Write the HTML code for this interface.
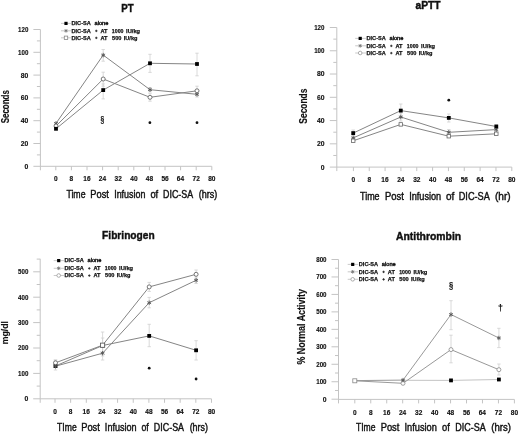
<!DOCTYPE html>
<html><head><meta charset="utf-8"><style>
html,body{margin:0;padding:0;background:#fff;}
svg{display:block;font-family:"Liberation Sans",sans-serif;filter:blur(0.3px);}
text{stroke:#111;stroke-width:0.4px;}
text[font-weight]{stroke-width:0.15px;}
</style></head><body>
<svg width="520" height="435" viewBox="0 0 520 435">
<rect width="520" height="435" fill="#fff"/>
<text x="121.25" y="11.90" font-size="11.63" textLength="12.35" lengthAdjust="spacingAndGlyphs" font-weight="bold" fill="#111" style="stroke-width:0.45px">PT</text>
<text transform="translate(9.40,123.33) rotate(-90)" x="0" y="0" font-size="10.03" textLength="33.26" lengthAdjust="spacingAndGlyphs" font-weight="bold" fill="#111">Seconds</text>
<line x1="40.40" y1="29.50" x2="40.40" y2="170.30" stroke="#c4c4c4" stroke-width="1"/>
<line x1="33.40" y1="166.30" x2="40.40" y2="166.30" stroke="#c4c4c4" stroke-width="1"/>
<line x1="33.40" y1="143.50" x2="40.40" y2="143.50" stroke="#c4c4c4" stroke-width="1"/>
<line x1="33.40" y1="120.70" x2="40.40" y2="120.70" stroke="#c4c4c4" stroke-width="1"/>
<line x1="33.40" y1="97.90" x2="40.40" y2="97.90" stroke="#c4c4c4" stroke-width="1"/>
<line x1="33.40" y1="75.10" x2="40.40" y2="75.10" stroke="#c4c4c4" stroke-width="1"/>
<line x1="33.40" y1="52.30" x2="40.40" y2="52.30" stroke="#c4c4c4" stroke-width="1"/>
<line x1="33.40" y1="29.50" x2="40.40" y2="29.50" stroke="#c4c4c4" stroke-width="1"/>
<line x1="36.90" y1="154.90" x2="40.40" y2="154.90" stroke="#c4c4c4" stroke-width="1"/>
<line x1="36.90" y1="132.10" x2="40.40" y2="132.10" stroke="#c4c4c4" stroke-width="1"/>
<line x1="36.90" y1="109.30" x2="40.40" y2="109.30" stroke="#c4c4c4" stroke-width="1"/>
<line x1="36.90" y1="86.50" x2="40.40" y2="86.50" stroke="#c4c4c4" stroke-width="1"/>
<line x1="36.90" y1="63.70" x2="40.40" y2="63.70" stroke="#c4c4c4" stroke-width="1"/>
<line x1="36.90" y1="40.90" x2="40.40" y2="40.90" stroke="#c4c4c4" stroke-width="1"/>
<line x1="40.40" y1="166.30" x2="211.80" y2="166.30" stroke="#c4c4c4" stroke-width="1"/>
<line x1="55.80" y1="166.30" x2="55.80" y2="170.30" stroke="#c4c4c4" stroke-width="1"/>
<text x="53.99" y="181.10" font-size="6.73" textLength="3.63" lengthAdjust="spacingAndGlyphs" font-weight="bold" fill="#111">0</text>
<line x1="71.40" y1="166.30" x2="71.40" y2="170.30" stroke="#c4c4c4" stroke-width="1"/>
<text x="69.58" y="181.10" font-size="6.73" textLength="3.63" lengthAdjust="spacingAndGlyphs" font-weight="bold" fill="#111">8</text>
<line x1="87.00" y1="166.30" x2="87.00" y2="170.30" stroke="#c4c4c4" stroke-width="1"/>
<text x="83.28" y="181.10" font-size="6.73" textLength="7.27" lengthAdjust="spacingAndGlyphs" font-weight="bold" fill="#111">16</text>
<line x1="102.60" y1="166.30" x2="102.60" y2="170.30" stroke="#c4c4c4" stroke-width="1"/>
<text x="98.87" y="181.10" font-size="6.73" textLength="7.27" lengthAdjust="spacingAndGlyphs" font-weight="bold" fill="#111">24</text>
<line x1="118.20" y1="166.30" x2="118.20" y2="170.30" stroke="#c4c4c4" stroke-width="1"/>
<text x="114.62" y="181.10" font-size="6.73" textLength="7.27" lengthAdjust="spacingAndGlyphs" font-weight="bold" fill="#111">32</text>
<line x1="133.80" y1="166.30" x2="133.80" y2="170.30" stroke="#c4c4c4" stroke-width="1"/>
<text x="130.25" y="181.10" font-size="6.73" textLength="7.27" lengthAdjust="spacingAndGlyphs" font-weight="bold" fill="#111">40</text>
<line x1="149.40" y1="166.30" x2="149.40" y2="170.30" stroke="#c4c4c4" stroke-width="1"/>
<text x="145.82" y="181.10" font-size="6.73" textLength="7.27" lengthAdjust="spacingAndGlyphs" font-weight="bold" fill="#111">48</text>
<line x1="165.00" y1="166.30" x2="165.00" y2="170.30" stroke="#c4c4c4" stroke-width="1"/>
<text x="161.38" y="181.10" font-size="6.73" textLength="7.27" lengthAdjust="spacingAndGlyphs" font-weight="bold" fill="#111">56</text>
<line x1="180.60" y1="166.30" x2="180.60" y2="170.30" stroke="#c4c4c4" stroke-width="1"/>
<text x="176.86" y="181.10" font-size="6.73" textLength="7.27" lengthAdjust="spacingAndGlyphs" font-weight="bold" fill="#111">64</text>
<line x1="196.20" y1="166.30" x2="196.20" y2="170.30" stroke="#c4c4c4" stroke-width="1"/>
<text x="192.56" y="181.10" font-size="6.73" textLength="7.27" lengthAdjust="spacingAndGlyphs" font-weight="bold" fill="#111">72</text>
<line x1="211.80" y1="166.30" x2="211.80" y2="170.30" stroke="#c4c4c4" stroke-width="1"/>
<text x="208.20" y="181.10" font-size="6.73" textLength="7.27" lengthAdjust="spacingAndGlyphs" font-weight="bold" fill="#111">80</text>
<text x="24.59" y="168.75" font-size="7.02" textLength="3.79" lengthAdjust="spacingAndGlyphs" font-weight="bold" fill="#111">0</text>
<text x="20.81" y="145.95" font-size="7.02" textLength="7.57" lengthAdjust="spacingAndGlyphs" font-weight="bold" fill="#111">20</text>
<text x="20.81" y="123.15" font-size="7.02" textLength="7.57" lengthAdjust="spacingAndGlyphs" font-weight="bold" fill="#111">40</text>
<text x="20.81" y="100.35" font-size="7.02" textLength="7.57" lengthAdjust="spacingAndGlyphs" font-weight="bold" fill="#111">60</text>
<text x="20.81" y="77.55" font-size="7.02" textLength="7.57" lengthAdjust="spacingAndGlyphs" font-weight="bold" fill="#111">80</text>
<text x="18.05" y="54.75" font-size="7.02" textLength="10.31" lengthAdjust="spacingAndGlyphs" font-weight="bold" fill="#111">100</text>
<text x="18.05" y="31.95" font-size="7.02" textLength="10.31" lengthAdjust="spacingAndGlyphs" font-weight="bold" fill="#111">120</text>
<text x="66.41" y="198.10" font-size="10.03" textLength="19.08" lengthAdjust="spacingAndGlyphs" fill="#111">Time</text>
<text x="90.34" y="198.10" font-size="10.03" textLength="18.52" lengthAdjust="spacingAndGlyphs" fill="#111">Post</text>
<text x="114.18" y="198.10" font-size="10.03" textLength="31.20" lengthAdjust="spacingAndGlyphs" fill="#111">Infusion</text>
<text x="150.41" y="198.10" font-size="10.03" textLength="7.78" lengthAdjust="spacingAndGlyphs" fill="#111">of</text>
<text x="163.07" y="198.10" font-size="10.03" textLength="30.05" lengthAdjust="spacingAndGlyphs" fill="#111">DIC-SA</text>
<text x="198.64" y="198.10" font-size="10.03" textLength="18.52" lengthAdjust="spacingAndGlyphs" fill="#111">(hrs)</text>
<text x="71.52" y="25.20" font-size="5.96" textLength="19.32" lengthAdjust="spacingAndGlyphs" font-weight="bold" fill="#111" style="stroke-width:0.25px">DIC-SA</text>
<text x="94.56" y="25.20" font-size="5.81" textLength="13.89" lengthAdjust="spacingAndGlyphs" fill="#111" style="stroke-width:0.4px">alone</text>
<text x="71.52" y="32.60" font-size="5.96" textLength="19.32" lengthAdjust="spacingAndGlyphs" font-weight="bold" fill="#111" style="stroke-width:0.25px">DIC-SA</text>
<line x1="95.10" y1="30.90" x2="97.50" y2="30.90" stroke="#222" stroke-width="0.9"/>
<line x1="96.30" y1="29.70" x2="96.30" y2="32.10" stroke="#222" stroke-width="0.9"/>
<text x="100.46" y="32.60" font-size="5.96" textLength="7.10" lengthAdjust="spacingAndGlyphs" font-weight="bold" fill="#111" style="stroke-width:0.25px">AT</text>
<text x="111.87" y="32.60" font-size="5.96" textLength="11.65" lengthAdjust="spacingAndGlyphs" font-weight="bold" fill="#111" style="stroke-width:0.25px">1000</text>
<text x="126.12" y="32.60" font-size="5.96" textLength="13.96" lengthAdjust="spacingAndGlyphs" font-weight="bold" fill="#111" style="stroke-width:0.25px">IU/kg</text>
<text x="71.52" y="39.60" font-size="5.96" textLength="19.32" lengthAdjust="spacingAndGlyphs" font-weight="bold" fill="#111" style="stroke-width:0.25px">DIC-SA</text>
<line x1="95.10" y1="37.90" x2="97.50" y2="37.90" stroke="#222" stroke-width="0.9"/>
<line x1="96.30" y1="36.70" x2="96.30" y2="39.10" stroke="#222" stroke-width="0.9"/>
<text x="100.46" y="39.60" font-size="5.96" textLength="7.10" lengthAdjust="spacingAndGlyphs" font-weight="bold" fill="#111" style="stroke-width:0.25px">AT</text>
<text x="112.03" y="39.60" font-size="5.96" textLength="9.41" lengthAdjust="spacingAndGlyphs" font-weight="bold" fill="#111" style="stroke-width:0.25px">500</text>
<text x="123.72" y="39.60" font-size="5.96" textLength="13.75" lengthAdjust="spacingAndGlyphs" font-weight="bold" fill="#111" style="stroke-width:0.25px">IU/kg</text>
<line x1="61.00" y1="23.40" x2="70.90" y2="23.40" stroke="#bbb" stroke-width="0.8"/>
<line x1="61.00" y1="30.80" x2="70.90" y2="30.80" stroke="#bbb" stroke-width="0.8"/>
<line x1="61.00" y1="37.80" x2="70.90" y2="37.80" stroke="#bbb" stroke-width="0.8"/>
<rect x="64.40" y="21.80" width="3.2" height="3.2" fill="#000"/>
<path d="M66.00,32.60L66.00,29.00M64.44,31.70L67.56,29.90M64.44,29.90L67.56,31.70" stroke="#777" stroke-width="0.9" fill="none"/>
<rect x="64.30" y="36.10" width="3.4" height="3.4" fill="#fff" stroke="#888" stroke-width="0.8"/>
<line x1="103.20" y1="83.90" x2="103.20" y2="98.90" stroke="#d0d0d0" stroke-width="0.8"/>
<line x1="101.50" y1="83.90" x2="104.90" y2="83.90" stroke="#d0d0d0" stroke-width="0.8"/>
<line x1="101.50" y1="98.90" x2="104.90" y2="98.90" stroke="#d0d0d0" stroke-width="0.8"/>
<line x1="150.00" y1="54.30" x2="150.00" y2="72.40" stroke="#d0d0d0" stroke-width="0.8"/>
<line x1="148.30" y1="54.30" x2="151.70" y2="54.30" stroke="#d0d0d0" stroke-width="0.8"/>
<line x1="148.30" y1="72.40" x2="151.70" y2="72.40" stroke="#d0d0d0" stroke-width="0.8"/>
<line x1="197.00" y1="53.20" x2="197.00" y2="75.80" stroke="#d0d0d0" stroke-width="0.8"/>
<line x1="195.30" y1="53.20" x2="198.70" y2="53.20" stroke="#d0d0d0" stroke-width="0.8"/>
<line x1="195.30" y1="75.80" x2="198.70" y2="75.80" stroke="#d0d0d0" stroke-width="0.8"/>
<line x1="103.20" y1="49.50" x2="103.20" y2="61.20" stroke="#d0d0d0" stroke-width="0.8"/>
<line x1="101.50" y1="49.50" x2="104.90" y2="49.50" stroke="#d0d0d0" stroke-width="0.8"/>
<line x1="101.50" y1="61.20" x2="104.90" y2="61.20" stroke="#d0d0d0" stroke-width="0.8"/>
<line x1="150.00" y1="87.50" x2="150.00" y2="92.00" stroke="#d0d0d0" stroke-width="0.8"/>
<line x1="148.30" y1="87.50" x2="151.70" y2="87.50" stroke="#d0d0d0" stroke-width="0.8"/>
<line x1="148.30" y1="92.00" x2="151.70" y2="92.00" stroke="#d0d0d0" stroke-width="0.8"/>
<line x1="197.00" y1="91.50" x2="197.00" y2="97.00" stroke="#d0d0d0" stroke-width="0.8"/>
<line x1="195.30" y1="91.50" x2="198.70" y2="91.50" stroke="#d0d0d0" stroke-width="0.8"/>
<line x1="195.30" y1="97.00" x2="198.70" y2="97.00" stroke="#d0d0d0" stroke-width="0.8"/>
<line x1="103.20" y1="72.20" x2="103.20" y2="86.20" stroke="#d0d0d0" stroke-width="0.8"/>
<line x1="101.50" y1="72.20" x2="104.90" y2="72.20" stroke="#d0d0d0" stroke-width="0.8"/>
<line x1="101.50" y1="86.20" x2="104.90" y2="86.20" stroke="#d0d0d0" stroke-width="0.8"/>
<line x1="150.00" y1="93.60" x2="150.00" y2="101.20" stroke="#d0d0d0" stroke-width="0.8"/>
<line x1="148.30" y1="93.60" x2="151.70" y2="93.60" stroke="#d0d0d0" stroke-width="0.8"/>
<line x1="148.30" y1="101.20" x2="151.70" y2="101.20" stroke="#d0d0d0" stroke-width="0.8"/>
<line x1="197.00" y1="86.20" x2="197.00" y2="95.40" stroke="#d0d0d0" stroke-width="0.8"/>
<line x1="195.30" y1="86.20" x2="198.70" y2="86.20" stroke="#d0d0d0" stroke-width="0.8"/>
<line x1="195.30" y1="95.40" x2="198.70" y2="95.40" stroke="#d0d0d0" stroke-width="0.8"/>
<polyline points="56.00,128.80 103.20,90.10 150.00,63.30 197.00,64.00" fill="none" stroke="#858585" stroke-width="1"/>
<polyline points="56.00,123.40 103.20,55.10 150.00,89.70 197.00,94.30" fill="none" stroke="#858585" stroke-width="1"/>
<polyline points="56.00,126.00 103.20,79.00 150.00,97.30 197.00,90.80" fill="none" stroke="#858585" stroke-width="1"/>
<path d="M56.00,125.60L56.00,121.20M54.09,124.50L57.91,122.30M54.09,122.30L57.91,124.50" stroke="#555" stroke-width="0.9" fill="none"/>
<path d="M103.20,57.30L103.20,52.90M101.29,56.20L105.11,54.00M101.29,54.00L105.11,56.20" stroke="#555" stroke-width="0.9" fill="none"/>
<path d="M150.00,91.90L150.00,87.50M148.09,90.80L151.91,88.60M148.09,88.60L151.91,90.80" stroke="#555" stroke-width="0.9" fill="none"/>
<path d="M197.00,96.50L197.00,92.10M195.09,95.40L198.91,93.20M195.09,93.20L198.91,95.40" stroke="#555" stroke-width="0.9" fill="none"/>
<circle cx="56.00" cy="126.00" r="2.0" fill="#fff" stroke="#555" stroke-width="0.8"/>
<circle cx="103.20" cy="79.00" r="2.0" fill="#fff" stroke="#555" stroke-width="0.8"/>
<circle cx="150.00" cy="97.30" r="2.0" fill="#fff" stroke="#555" stroke-width="0.8"/>
<circle cx="197.00" cy="90.80" r="2.0" fill="#fff" stroke="#555" stroke-width="0.8"/>
<rect x="54.10" y="126.90" width="3.8" height="3.8" fill="#000"/>
<rect x="101.30" y="88.20" width="3.8" height="3.8" fill="#000"/>
<rect x="148.10" y="61.40" width="3.8" height="3.8" fill="#000"/>
<rect x="195.10" y="62.10" width="3.8" height="3.8" fill="#000"/>
<text x="100.52" y="122.12" font-size="8.78" textLength="3.75" lengthAdjust="spacingAndGlyphs" font-weight="bold" fill="#111">§</text>
<circle cx="149.90" cy="122.70" r="1.4" fill="#111"/>
<circle cx="197.00" cy="122.70" r="1.4" fill="#111"/>
<text x="415.50" y="9.10" font-size="11.34" textLength="25.11" lengthAdjust="spacingAndGlyphs" font-weight="bold" fill="#111" style="stroke-width:0.45px">aPTT</text>
<text transform="translate(307.10,123.64) rotate(-90)" x="0" y="0" font-size="10.03" textLength="34.99" lengthAdjust="spacingAndGlyphs" font-weight="bold" fill="#111">Seconds</text>
<line x1="336.80" y1="27.50" x2="336.80" y2="171.10" stroke="#c4c4c4" stroke-width="1"/>
<line x1="329.80" y1="167.10" x2="336.80" y2="167.10" stroke="#c4c4c4" stroke-width="1"/>
<line x1="329.80" y1="143.83" x2="336.80" y2="143.83" stroke="#c4c4c4" stroke-width="1"/>
<line x1="329.80" y1="120.57" x2="336.80" y2="120.57" stroke="#c4c4c4" stroke-width="1"/>
<line x1="329.80" y1="97.30" x2="336.80" y2="97.30" stroke="#c4c4c4" stroke-width="1"/>
<line x1="329.80" y1="74.03" x2="336.80" y2="74.03" stroke="#c4c4c4" stroke-width="1"/>
<line x1="329.80" y1="50.77" x2="336.80" y2="50.77" stroke="#c4c4c4" stroke-width="1"/>
<line x1="329.80" y1="27.50" x2="336.80" y2="27.50" stroke="#c4c4c4" stroke-width="1"/>
<line x1="333.30" y1="155.47" x2="336.80" y2="155.47" stroke="#c4c4c4" stroke-width="1"/>
<line x1="333.30" y1="132.20" x2="336.80" y2="132.20" stroke="#c4c4c4" stroke-width="1"/>
<line x1="333.30" y1="108.93" x2="336.80" y2="108.93" stroke="#c4c4c4" stroke-width="1"/>
<line x1="333.30" y1="85.67" x2="336.80" y2="85.67" stroke="#c4c4c4" stroke-width="1"/>
<line x1="333.30" y1="62.40" x2="336.80" y2="62.40" stroke="#c4c4c4" stroke-width="1"/>
<line x1="333.30" y1="39.13" x2="336.80" y2="39.13" stroke="#c4c4c4" stroke-width="1"/>
<line x1="336.80" y1="167.10" x2="511.80" y2="167.10" stroke="#c4c4c4" stroke-width="1"/>
<line x1="353.40" y1="167.10" x2="353.40" y2="171.10" stroke="#c4c4c4" stroke-width="1"/>
<text x="351.59" y="182.40" font-size="6.73" textLength="3.63" lengthAdjust="spacingAndGlyphs" font-weight="bold" fill="#111">0</text>
<line x1="369.24" y1="167.10" x2="369.24" y2="171.10" stroke="#c4c4c4" stroke-width="1"/>
<text x="367.42" y="182.40" font-size="6.73" textLength="3.63" lengthAdjust="spacingAndGlyphs" font-weight="bold" fill="#111">8</text>
<line x1="385.08" y1="167.10" x2="385.08" y2="171.10" stroke="#c4c4c4" stroke-width="1"/>
<text x="381.36" y="182.40" font-size="6.73" textLength="7.27" lengthAdjust="spacingAndGlyphs" font-weight="bold" fill="#111">16</text>
<line x1="400.92" y1="167.10" x2="400.92" y2="171.10" stroke="#c4c4c4" stroke-width="1"/>
<text x="397.19" y="182.40" font-size="6.73" textLength="7.27" lengthAdjust="spacingAndGlyphs" font-weight="bold" fill="#111">24</text>
<line x1="416.76" y1="167.10" x2="416.76" y2="171.10" stroke="#c4c4c4" stroke-width="1"/>
<text x="413.18" y="182.40" font-size="6.73" textLength="7.27" lengthAdjust="spacingAndGlyphs" font-weight="bold" fill="#111">32</text>
<line x1="432.60" y1="167.10" x2="432.60" y2="171.10" stroke="#c4c4c4" stroke-width="1"/>
<text x="429.05" y="182.40" font-size="6.73" textLength="7.27" lengthAdjust="spacingAndGlyphs" font-weight="bold" fill="#111">40</text>
<line x1="448.44" y1="167.10" x2="448.44" y2="171.10" stroke="#c4c4c4" stroke-width="1"/>
<text x="444.86" y="182.40" font-size="6.73" textLength="7.27" lengthAdjust="spacingAndGlyphs" font-weight="bold" fill="#111">48</text>
<line x1="464.28" y1="167.10" x2="464.28" y2="171.10" stroke="#c4c4c4" stroke-width="1"/>
<text x="460.66" y="182.40" font-size="6.73" textLength="7.27" lengthAdjust="spacingAndGlyphs" font-weight="bold" fill="#111">56</text>
<line x1="480.12" y1="167.10" x2="480.12" y2="171.10" stroke="#c4c4c4" stroke-width="1"/>
<text x="476.38" y="182.40" font-size="6.73" textLength="7.27" lengthAdjust="spacingAndGlyphs" font-weight="bold" fill="#111">64</text>
<line x1="495.96" y1="167.10" x2="495.96" y2="171.10" stroke="#c4c4c4" stroke-width="1"/>
<text x="492.32" y="182.40" font-size="6.73" textLength="7.27" lengthAdjust="spacingAndGlyphs" font-weight="bold" fill="#111">72</text>
<line x1="511.80" y1="167.10" x2="511.80" y2="171.10" stroke="#c4c4c4" stroke-width="1"/>
<text x="508.20" y="182.40" font-size="6.73" textLength="7.27" lengthAdjust="spacingAndGlyphs" font-weight="bold" fill="#111">80</text>
<text x="320.69" y="169.55" font-size="7.02" textLength="3.79" lengthAdjust="spacingAndGlyphs" font-weight="bold" fill="#111">0</text>
<text x="316.91" y="146.28" font-size="7.02" textLength="7.57" lengthAdjust="spacingAndGlyphs" font-weight="bold" fill="#111">20</text>
<text x="316.91" y="123.02" font-size="7.02" textLength="7.57" lengthAdjust="spacingAndGlyphs" font-weight="bold" fill="#111">40</text>
<text x="316.91" y="99.75" font-size="7.02" textLength="7.57" lengthAdjust="spacingAndGlyphs" font-weight="bold" fill="#111">60</text>
<text x="316.91" y="76.48" font-size="7.02" textLength="7.57" lengthAdjust="spacingAndGlyphs" font-weight="bold" fill="#111">80</text>
<text x="314.15" y="53.22" font-size="7.02" textLength="10.31" lengthAdjust="spacingAndGlyphs" font-weight="bold" fill="#111">100</text>
<text x="314.15" y="29.95" font-size="7.02" textLength="10.31" lengthAdjust="spacingAndGlyphs" font-weight="bold" fill="#111">120</text>
<text x="360.00" y="200.00" font-size="10.03" textLength="19.59" lengthAdjust="spacingAndGlyphs" fill="#111">Time</text>
<text x="385.03" y="200.00" font-size="10.03" textLength="18.84" lengthAdjust="spacingAndGlyphs" fill="#111">Post</text>
<text x="409.16" y="200.00" font-size="10.03" textLength="32.04" lengthAdjust="spacingAndGlyphs" fill="#111">Infusion</text>
<text x="446.08" y="200.00" font-size="10.03" textLength="8.31" lengthAdjust="spacingAndGlyphs" fill="#111">of</text>
<text x="458.75" y="200.00" font-size="10.03" textLength="31.07" lengthAdjust="spacingAndGlyphs" fill="#111">DIC-SA</text>
<text x="494.98" y="200.00" font-size="10.03" textLength="15.65" lengthAdjust="spacingAndGlyphs" fill="#111">(hr)</text>
<text x="366.52" y="40.20" font-size="5.96" textLength="19.32" lengthAdjust="spacingAndGlyphs" font-weight="bold" fill="#111" style="stroke-width:0.25px">DIC-SA</text>
<text x="389.56" y="40.20" font-size="5.81" textLength="13.89" lengthAdjust="spacingAndGlyphs" fill="#111" style="stroke-width:0.4px">alone</text>
<text x="366.52" y="47.60" font-size="5.96" textLength="19.32" lengthAdjust="spacingAndGlyphs" font-weight="bold" fill="#111" style="stroke-width:0.25px">DIC-SA</text>
<line x1="390.10" y1="45.90" x2="392.50" y2="45.90" stroke="#222" stroke-width="0.9"/>
<line x1="391.30" y1="44.70" x2="391.30" y2="47.10" stroke="#222" stroke-width="0.9"/>
<text x="395.46" y="47.60" font-size="5.96" textLength="7.10" lengthAdjust="spacingAndGlyphs" font-weight="bold" fill="#111" style="stroke-width:0.25px">AT</text>
<text x="406.87" y="47.60" font-size="5.96" textLength="11.65" lengthAdjust="spacingAndGlyphs" font-weight="bold" fill="#111" style="stroke-width:0.25px">1000</text>
<text x="421.12" y="47.60" font-size="5.96" textLength="13.96" lengthAdjust="spacingAndGlyphs" font-weight="bold" fill="#111" style="stroke-width:0.25px">IU/kg</text>
<text x="366.52" y="54.80" font-size="5.96" textLength="19.32" lengthAdjust="spacingAndGlyphs" font-weight="bold" fill="#111" style="stroke-width:0.25px">DIC-SA</text>
<line x1="390.10" y1="53.10" x2="392.50" y2="53.10" stroke="#222" stroke-width="0.9"/>
<line x1="391.30" y1="51.90" x2="391.30" y2="54.30" stroke="#222" stroke-width="0.9"/>
<text x="395.46" y="54.80" font-size="5.96" textLength="7.10" lengthAdjust="spacingAndGlyphs" font-weight="bold" fill="#111" style="stroke-width:0.25px">AT</text>
<text x="407.03" y="54.80" font-size="5.96" textLength="9.41" lengthAdjust="spacingAndGlyphs" font-weight="bold" fill="#111" style="stroke-width:0.25px">500</text>
<text x="418.72" y="54.80" font-size="5.96" textLength="13.75" lengthAdjust="spacingAndGlyphs" font-weight="bold" fill="#111" style="stroke-width:0.25px">IU/kg</text>
<line x1="355.20" y1="38.40" x2="365.90" y2="38.40" stroke="#bbb" stroke-width="0.8"/>
<line x1="355.20" y1="45.80" x2="365.90" y2="45.80" stroke="#bbb" stroke-width="0.8"/>
<line x1="355.20" y1="53.00" x2="365.90" y2="53.00" stroke="#bbb" stroke-width="0.8"/>
<rect x="358.60" y="36.80" width="3.2" height="3.2" fill="#000"/>
<path d="M360.20,47.60L360.20,44.00M358.64,46.70L361.76,44.90M358.64,44.90L361.76,46.70" stroke="#777" stroke-width="0.9" fill="none"/>
<circle cx="360.20" cy="53.00" r="1.8" fill="#fff" stroke="#999" stroke-width="0.8"/>
<line x1="353.20" y1="130.00" x2="353.20" y2="136.00" stroke="#d0d0d0" stroke-width="0.8"/>
<line x1="351.50" y1="130.00" x2="354.90" y2="130.00" stroke="#d0d0d0" stroke-width="0.8"/>
<line x1="351.50" y1="136.00" x2="354.90" y2="136.00" stroke="#d0d0d0" stroke-width="0.8"/>
<line x1="400.80" y1="104.00" x2="400.80" y2="117.00" stroke="#d0d0d0" stroke-width="0.8"/>
<line x1="399.10" y1="104.00" x2="402.50" y2="104.00" stroke="#d0d0d0" stroke-width="0.8"/>
<line x1="399.10" y1="117.00" x2="402.50" y2="117.00" stroke="#d0d0d0" stroke-width="0.8"/>
<line x1="448.80" y1="114.00" x2="448.80" y2="122.00" stroke="#d0d0d0" stroke-width="0.8"/>
<line x1="447.10" y1="114.00" x2="450.50" y2="114.00" stroke="#d0d0d0" stroke-width="0.8"/>
<line x1="447.10" y1="122.00" x2="450.50" y2="122.00" stroke="#d0d0d0" stroke-width="0.8"/>
<line x1="496.30" y1="124.50" x2="496.30" y2="128.50" stroke="#d0d0d0" stroke-width="0.8"/>
<line x1="494.60" y1="124.50" x2="498.00" y2="124.50" stroke="#d0d0d0" stroke-width="0.8"/>
<line x1="494.60" y1="128.50" x2="498.00" y2="128.50" stroke="#d0d0d0" stroke-width="0.8"/>
<line x1="353.20" y1="135.50" x2="353.20" y2="140.00" stroke="#d0d0d0" stroke-width="0.8"/>
<line x1="351.50" y1="135.50" x2="354.90" y2="135.50" stroke="#d0d0d0" stroke-width="0.8"/>
<line x1="351.50" y1="140.00" x2="354.90" y2="140.00" stroke="#d0d0d0" stroke-width="0.8"/>
<line x1="400.80" y1="113.00" x2="400.80" y2="121.00" stroke="#d0d0d0" stroke-width="0.8"/>
<line x1="399.10" y1="113.00" x2="402.50" y2="113.00" stroke="#d0d0d0" stroke-width="0.8"/>
<line x1="399.10" y1="121.00" x2="402.50" y2="121.00" stroke="#d0d0d0" stroke-width="0.8"/>
<line x1="448.80" y1="129.50" x2="448.80" y2="135.00" stroke="#d0d0d0" stroke-width="0.8"/>
<line x1="447.10" y1="129.50" x2="450.50" y2="129.50" stroke="#d0d0d0" stroke-width="0.8"/>
<line x1="447.10" y1="135.00" x2="450.50" y2="135.00" stroke="#d0d0d0" stroke-width="0.8"/>
<line x1="496.30" y1="127.50" x2="496.30" y2="131.50" stroke="#d0d0d0" stroke-width="0.8"/>
<line x1="494.60" y1="127.50" x2="498.00" y2="127.50" stroke="#d0d0d0" stroke-width="0.8"/>
<line x1="494.60" y1="131.50" x2="498.00" y2="131.50" stroke="#d0d0d0" stroke-width="0.8"/>
<polyline points="353.20,133.10 400.80,110.60 448.80,117.90 496.30,126.50" fill="none" stroke="#858585" stroke-width="1"/>
<polyline points="353.20,137.90 400.80,117.00 448.80,132.30 496.30,129.60" fill="none" stroke="#858585" stroke-width="1"/>
<polyline points="353.20,140.80 400.80,124.40 448.80,136.20 496.30,133.80" fill="none" stroke="#858585" stroke-width="1"/>
<path d="M353.20,140.10L353.20,135.70M351.29,139.00L355.11,136.80M351.29,136.80L355.11,139.00" stroke="#555" stroke-width="0.9" fill="none"/>
<path d="M400.80,119.20L400.80,114.80M398.89,118.10L402.71,115.90M398.89,115.90L402.71,118.10" stroke="#555" stroke-width="0.9" fill="none"/>
<path d="M448.80,134.50L448.80,130.10M446.89,133.40L450.71,131.20M446.89,131.20L450.71,133.40" stroke="#555" stroke-width="0.9" fill="none"/>
<path d="M496.30,131.80L496.30,127.40M494.39,130.70L498.21,128.50M494.39,128.50L498.21,130.70" stroke="#555" stroke-width="0.9" fill="none"/>
<rect x="351.45" y="139.05" width="3.5" height="3.5" fill="#fff" stroke="#666" stroke-width="0.8"/>
<rect x="399.05" y="122.65" width="3.5" height="3.5" fill="#fff" stroke="#666" stroke-width="0.8"/>
<rect x="447.05" y="134.45" width="3.5" height="3.5" fill="#fff" stroke="#666" stroke-width="0.8"/>
<rect x="494.55" y="132.05" width="3.5" height="3.5" fill="#fff" stroke="#666" stroke-width="0.8"/>
<rect x="351.30" y="131.20" width="3.8" height="3.8" fill="#000"/>
<rect x="398.90" y="108.70" width="3.8" height="3.8" fill="#000"/>
<rect x="446.90" y="116.00" width="3.8" height="3.8" fill="#000"/>
<rect x="494.40" y="124.60" width="3.8" height="3.8" fill="#000"/>
<circle cx="448.80" cy="100.20" r="1.4" fill="#111"/>
<text x="102.12" y="239.10" font-size="11.77" textLength="52.51" lengthAdjust="spacingAndGlyphs" font-weight="bold" fill="#111" style="stroke-width:0.45px">Fibrinogen</text>
<text transform="translate(8.00,344.17) rotate(-90)" x="0" y="0" font-size="8.58" textLength="22.98" lengthAdjust="spacingAndGlyphs" font-weight="bold" fill="#111">mg/dl</text>
<line x1="40.20" y1="258.80" x2="40.20" y2="402.80" stroke="#c4c4c4" stroke-width="1"/>
<line x1="33.20" y1="398.80" x2="40.20" y2="398.80" stroke="#c4c4c4" stroke-width="1"/>
<line x1="33.20" y1="373.40" x2="40.20" y2="373.40" stroke="#c4c4c4" stroke-width="1"/>
<line x1="33.20" y1="348.00" x2="40.20" y2="348.00" stroke="#c4c4c4" stroke-width="1"/>
<line x1="33.20" y1="322.60" x2="40.20" y2="322.60" stroke="#c4c4c4" stroke-width="1"/>
<line x1="33.20" y1="297.20" x2="40.20" y2="297.20" stroke="#c4c4c4" stroke-width="1"/>
<line x1="33.20" y1="271.80" x2="40.20" y2="271.80" stroke="#c4c4c4" stroke-width="1"/>
<line x1="36.70" y1="386.10" x2="40.20" y2="386.10" stroke="#c4c4c4" stroke-width="1"/>
<line x1="36.70" y1="360.70" x2="40.20" y2="360.70" stroke="#c4c4c4" stroke-width="1"/>
<line x1="36.70" y1="335.30" x2="40.20" y2="335.30" stroke="#c4c4c4" stroke-width="1"/>
<line x1="36.70" y1="309.90" x2="40.20" y2="309.90" stroke="#c4c4c4" stroke-width="1"/>
<line x1="36.70" y1="284.50" x2="40.20" y2="284.50" stroke="#c4c4c4" stroke-width="1"/>
<line x1="36.70" y1="259.10" x2="40.20" y2="259.10" stroke="#c4c4c4" stroke-width="1"/>
<line x1="40.20" y1="398.80" x2="211.48" y2="398.80" stroke="#c4c4c4" stroke-width="1"/>
<line x1="55.00" y1="398.80" x2="55.00" y2="402.80" stroke="#c4c4c4" stroke-width="1"/>
<text x="53.19" y="414.20" font-size="6.73" textLength="3.63" lengthAdjust="spacingAndGlyphs" font-weight="bold" fill="#111">0</text>
<line x1="70.65" y1="398.80" x2="70.65" y2="402.80" stroke="#c4c4c4" stroke-width="1"/>
<text x="68.83" y="414.20" font-size="6.73" textLength="3.63" lengthAdjust="spacingAndGlyphs" font-weight="bold" fill="#111">8</text>
<line x1="86.30" y1="398.80" x2="86.30" y2="402.80" stroke="#c4c4c4" stroke-width="1"/>
<text x="82.58" y="414.20" font-size="6.73" textLength="7.27" lengthAdjust="spacingAndGlyphs" font-weight="bold" fill="#111">16</text>
<line x1="101.94" y1="398.80" x2="101.94" y2="402.80" stroke="#c4c4c4" stroke-width="1"/>
<text x="98.21" y="414.20" font-size="6.73" textLength="7.27" lengthAdjust="spacingAndGlyphs" font-weight="bold" fill="#111">24</text>
<line x1="117.59" y1="398.80" x2="117.59" y2="402.80" stroke="#c4c4c4" stroke-width="1"/>
<text x="114.02" y="414.20" font-size="6.73" textLength="7.27" lengthAdjust="spacingAndGlyphs" font-weight="bold" fill="#111">32</text>
<line x1="133.24" y1="398.80" x2="133.24" y2="402.80" stroke="#c4c4c4" stroke-width="1"/>
<text x="129.69" y="414.20" font-size="6.73" textLength="7.27" lengthAdjust="spacingAndGlyphs" font-weight="bold" fill="#111">40</text>
<line x1="148.89" y1="398.80" x2="148.89" y2="402.80" stroke="#c4c4c4" stroke-width="1"/>
<text x="145.31" y="414.20" font-size="6.73" textLength="7.27" lengthAdjust="spacingAndGlyphs" font-weight="bold" fill="#111">48</text>
<line x1="164.54" y1="398.80" x2="164.54" y2="402.80" stroke="#c4c4c4" stroke-width="1"/>
<text x="160.92" y="414.20" font-size="6.73" textLength="7.27" lengthAdjust="spacingAndGlyphs" font-weight="bold" fill="#111">56</text>
<line x1="180.18" y1="398.80" x2="180.18" y2="402.80" stroke="#c4c4c4" stroke-width="1"/>
<text x="176.45" y="414.20" font-size="6.73" textLength="7.27" lengthAdjust="spacingAndGlyphs" font-weight="bold" fill="#111">64</text>
<line x1="195.83" y1="398.80" x2="195.83" y2="402.80" stroke="#c4c4c4" stroke-width="1"/>
<text x="192.19" y="414.20" font-size="6.73" textLength="7.27" lengthAdjust="spacingAndGlyphs" font-weight="bold" fill="#111">72</text>
<line x1="211.48" y1="398.80" x2="211.48" y2="402.80" stroke="#c4c4c4" stroke-width="1"/>
<text x="207.88" y="414.20" font-size="6.73" textLength="7.27" lengthAdjust="spacingAndGlyphs" font-weight="bold" fill="#111">80</text>
<text x="24.59" y="401.25" font-size="7.02" textLength="3.79" lengthAdjust="spacingAndGlyphs" font-weight="bold" fill="#111">0</text>
<text x="18.05" y="375.85" font-size="7.02" textLength="10.31" lengthAdjust="spacingAndGlyphs" font-weight="bold" fill="#111">100</text>
<text x="18.05" y="350.45" font-size="7.02" textLength="10.31" lengthAdjust="spacingAndGlyphs" font-weight="bold" fill="#111">200</text>
<text x="18.05" y="325.05" font-size="7.02" textLength="10.31" lengthAdjust="spacingAndGlyphs" font-weight="bold" fill="#111">300</text>
<text x="18.05" y="299.65" font-size="7.02" textLength="10.31" lengthAdjust="spacingAndGlyphs" font-weight="bold" fill="#111">400</text>
<text x="18.05" y="274.25" font-size="7.02" textLength="10.31" lengthAdjust="spacingAndGlyphs" font-weight="bold" fill="#111">500</text>
<text x="57.11" y="431.10" font-size="10.03" textLength="19.57" lengthAdjust="spacingAndGlyphs" fill="#111">TIme</text>
<text x="81.24" y="431.10" font-size="10.03" textLength="18.63" lengthAdjust="spacingAndGlyphs" fill="#111">Post</text>
<text x="104.87" y="431.10" font-size="10.03" textLength="31.73" lengthAdjust="spacingAndGlyphs" fill="#111">Infusion</text>
<text x="141.43" y="431.10" font-size="10.03" textLength="7.26" lengthAdjust="spacingAndGlyphs" fill="#111">of</text>
<text x="153.87" y="431.10" font-size="10.03" textLength="30.15" lengthAdjust="spacingAndGlyphs" fill="#111">DIC-SA</text>
<text x="189.64" y="431.10" font-size="10.03" textLength="18.41" lengthAdjust="spacingAndGlyphs" fill="#111">(hrs)</text>
<text x="64.52" y="262.40" font-size="5.96" textLength="19.32" lengthAdjust="spacingAndGlyphs" font-weight="bold" fill="#111" style="stroke-width:0.25px">DIC-SA</text>
<text x="87.56" y="262.40" font-size="5.81" textLength="13.89" lengthAdjust="spacingAndGlyphs" fill="#111" style="stroke-width:0.4px">alone</text>
<text x="64.52" y="270.10" font-size="5.96" textLength="19.32" lengthAdjust="spacingAndGlyphs" font-weight="bold" fill="#111" style="stroke-width:0.25px">DIC-SA</text>
<line x1="88.10" y1="268.40" x2="90.50" y2="268.40" stroke="#222" stroke-width="0.9"/>
<line x1="89.30" y1="267.20" x2="89.30" y2="269.60" stroke="#222" stroke-width="0.9"/>
<text x="93.46" y="270.10" font-size="5.96" textLength="7.10" lengthAdjust="spacingAndGlyphs" font-weight="bold" fill="#111" style="stroke-width:0.25px">AT</text>
<text x="104.87" y="270.10" font-size="5.96" textLength="11.65" lengthAdjust="spacingAndGlyphs" font-weight="bold" fill="#111" style="stroke-width:0.25px">1000</text>
<text x="119.12" y="270.10" font-size="5.96" textLength="13.96" lengthAdjust="spacingAndGlyphs" font-weight="bold" fill="#111" style="stroke-width:0.25px">IU/kg</text>
<text x="64.52" y="277.30" font-size="5.96" textLength="19.32" lengthAdjust="spacingAndGlyphs" font-weight="bold" fill="#111" style="stroke-width:0.25px">DIC-SA</text>
<line x1="88.10" y1="275.60" x2="90.50" y2="275.60" stroke="#222" stroke-width="0.9"/>
<line x1="89.30" y1="274.40" x2="89.30" y2="276.80" stroke="#222" stroke-width="0.9"/>
<text x="93.46" y="277.30" font-size="5.96" textLength="7.10" lengthAdjust="spacingAndGlyphs" font-weight="bold" fill="#111" style="stroke-width:0.25px">AT</text>
<text x="105.03" y="277.30" font-size="5.96" textLength="9.41" lengthAdjust="spacingAndGlyphs" font-weight="bold" fill="#111" style="stroke-width:0.25px">500</text>
<text x="116.72" y="277.30" font-size="5.96" textLength="13.75" lengthAdjust="spacingAndGlyphs" font-weight="bold" fill="#111" style="stroke-width:0.25px">IU/kg</text>
<line x1="53.70" y1="260.60" x2="63.90" y2="260.60" stroke="#bbb" stroke-width="0.8"/>
<line x1="53.70" y1="268.30" x2="63.90" y2="268.30" stroke="#bbb" stroke-width="0.8"/>
<line x1="53.70" y1="275.50" x2="63.90" y2="275.50" stroke="#bbb" stroke-width="0.8"/>
<rect x="57.10" y="259.00" width="3.2" height="3.2" fill="#000"/>
<path d="M58.70,270.10L58.70,266.50M57.14,269.20L60.26,267.40M57.14,267.40L60.26,269.20" stroke="#777" stroke-width="0.9" fill="none"/>
<circle cx="58.70" cy="275.50" r="1.8" fill="#fff" stroke="#999" stroke-width="0.8"/>
<line x1="55.50" y1="362.00" x2="55.50" y2="370.00" stroke="#d0d0d0" stroke-width="0.8"/>
<line x1="53.80" y1="362.00" x2="57.20" y2="362.00" stroke="#d0d0d0" stroke-width="0.8"/>
<line x1="53.80" y1="370.00" x2="57.20" y2="370.00" stroke="#d0d0d0" stroke-width="0.8"/>
<line x1="102.60" y1="332.00" x2="102.60" y2="356.00" stroke="#d0d0d0" stroke-width="0.8"/>
<line x1="100.90" y1="332.00" x2="104.30" y2="332.00" stroke="#d0d0d0" stroke-width="0.8"/>
<line x1="100.90" y1="356.00" x2="104.30" y2="356.00" stroke="#d0d0d0" stroke-width="0.8"/>
<line x1="149.20" y1="324.30" x2="149.20" y2="346.70" stroke="#d0d0d0" stroke-width="0.8"/>
<line x1="147.50" y1="324.30" x2="150.90" y2="324.30" stroke="#d0d0d0" stroke-width="0.8"/>
<line x1="147.50" y1="346.70" x2="150.90" y2="346.70" stroke="#d0d0d0" stroke-width="0.8"/>
<line x1="196.10" y1="340.70" x2="196.10" y2="360.00" stroke="#d0d0d0" stroke-width="0.8"/>
<line x1="194.40" y1="340.70" x2="197.80" y2="340.70" stroke="#d0d0d0" stroke-width="0.8"/>
<line x1="194.40" y1="360.00" x2="197.80" y2="360.00" stroke="#d0d0d0" stroke-width="0.8"/>
<line x1="55.50" y1="360.00" x2="55.50" y2="366.00" stroke="#d0d0d0" stroke-width="0.8"/>
<line x1="53.80" y1="360.00" x2="57.20" y2="360.00" stroke="#d0d0d0" stroke-width="0.8"/>
<line x1="53.80" y1="366.00" x2="57.20" y2="366.00" stroke="#d0d0d0" stroke-width="0.8"/>
<line x1="102.60" y1="346.00" x2="102.60" y2="360.00" stroke="#d0d0d0" stroke-width="0.8"/>
<line x1="100.90" y1="346.00" x2="104.30" y2="346.00" stroke="#d0d0d0" stroke-width="0.8"/>
<line x1="100.90" y1="360.00" x2="104.30" y2="360.00" stroke="#d0d0d0" stroke-width="0.8"/>
<line x1="149.20" y1="297.40" x2="149.20" y2="307.80" stroke="#d0d0d0" stroke-width="0.8"/>
<line x1="147.50" y1="297.40" x2="150.90" y2="297.40" stroke="#d0d0d0" stroke-width="0.8"/>
<line x1="147.50" y1="307.80" x2="150.90" y2="307.80" stroke="#d0d0d0" stroke-width="0.8"/>
<line x1="196.10" y1="277.00" x2="196.10" y2="283.50" stroke="#d0d0d0" stroke-width="0.8"/>
<line x1="194.40" y1="277.00" x2="197.80" y2="277.00" stroke="#d0d0d0" stroke-width="0.8"/>
<line x1="194.40" y1="283.50" x2="197.80" y2="283.50" stroke="#d0d0d0" stroke-width="0.8"/>
<line x1="55.50" y1="360.00" x2="55.50" y2="366.00" stroke="#d0d0d0" stroke-width="0.8"/>
<line x1="53.80" y1="360.00" x2="57.20" y2="360.00" stroke="#d0d0d0" stroke-width="0.8"/>
<line x1="53.80" y1="366.00" x2="57.20" y2="366.00" stroke="#d0d0d0" stroke-width="0.8"/>
<line x1="102.60" y1="338.00" x2="102.60" y2="352.00" stroke="#d0d0d0" stroke-width="0.8"/>
<line x1="100.90" y1="338.00" x2="104.30" y2="338.00" stroke="#d0d0d0" stroke-width="0.8"/>
<line x1="100.90" y1="352.00" x2="104.30" y2="352.00" stroke="#d0d0d0" stroke-width="0.8"/>
<line x1="149.20" y1="282.40" x2="149.20" y2="291.40" stroke="#d0d0d0" stroke-width="0.8"/>
<line x1="147.50" y1="282.40" x2="150.90" y2="282.40" stroke="#d0d0d0" stroke-width="0.8"/>
<line x1="147.50" y1="291.40" x2="150.90" y2="291.40" stroke="#d0d0d0" stroke-width="0.8"/>
<line x1="196.10" y1="270.00" x2="196.10" y2="279.00" stroke="#d0d0d0" stroke-width="0.8"/>
<line x1="194.40" y1="270.00" x2="197.80" y2="270.00" stroke="#d0d0d0" stroke-width="0.8"/>
<line x1="194.40" y1="279.00" x2="197.80" y2="279.00" stroke="#d0d0d0" stroke-width="0.8"/>
<polyline points="55.50,366.00 102.60,345.50 149.20,335.90 196.10,350.30" fill="none" stroke="#858585" stroke-width="1"/>
<polyline points="55.50,366.20 102.60,353.20 149.20,302.70 196.10,280.30" fill="none" stroke="#858585" stroke-width="1"/>
<polyline points="55.50,362.80 102.60,345.20 149.20,286.90 196.10,274.30" fill="none" stroke="#858585" stroke-width="1"/>
<rect x="53.60" y="364.10" width="3.8" height="3.8" fill="#000"/>
<rect x="100.70" y="343.60" width="3.8" height="3.8" fill="#000"/>
<rect x="147.30" y="334.00" width="3.8" height="3.8" fill="#000"/>
<rect x="194.20" y="348.40" width="3.8" height="3.8" fill="#000"/>
<path d="M55.50,368.40L55.50,364.00M53.59,367.30L57.41,365.10M53.59,365.10L57.41,367.30" stroke="#555" stroke-width="0.9" fill="none"/>
<path d="M102.60,355.40L102.60,351.00M100.69,354.30L104.51,352.10M100.69,352.10L104.51,354.30" stroke="#555" stroke-width="0.9" fill="none"/>
<path d="M149.20,304.90L149.20,300.50M147.29,303.80L151.11,301.60M147.29,301.60L151.11,303.80" stroke="#555" stroke-width="0.9" fill="none"/>
<path d="M196.10,282.50L196.10,278.10M194.19,281.40L198.01,279.20M194.19,279.20L198.01,281.40" stroke="#555" stroke-width="0.9" fill="none"/>
<circle cx="55.50" cy="362.80" r="2.0" fill="#fff" stroke="#555" stroke-width="0.8"/>
<rect x="100.50" y="343.10" width="4.2" height="4.2" fill="#fff" stroke="#555" stroke-width="0.8"/>
<circle cx="149.20" cy="286.90" r="2.0" fill="#fff" stroke="#555" stroke-width="0.8"/>
<circle cx="196.10" cy="274.30" r="2.0" fill="#fff" stroke="#555" stroke-width="0.8"/>
<circle cx="149.20" cy="368.20" r="1.4" fill="#111"/>
<circle cx="196.10" cy="379.00" r="1.4" fill="#111"/>
<text x="395.94" y="239.60" font-size="11.77" textLength="65.20" lengthAdjust="spacingAndGlyphs" font-weight="bold" fill="#111" style="stroke-width:0.45px">Antithrombin</text>
<text transform="translate(304.70,364.52) rotate(-90)" x="0" y="0" font-size="11.05" textLength="75.37" lengthAdjust="spacingAndGlyphs" font-weight="bold" fill="#111">% Normal Activity</text>
<line x1="338.50" y1="259.50" x2="338.50" y2="403.40" stroke="#c4c4c4" stroke-width="1"/>
<line x1="331.50" y1="399.20" x2="338.50" y2="399.20" stroke="#c4c4c4" stroke-width="1"/>
<line x1="331.50" y1="381.74" x2="338.50" y2="381.74" stroke="#c4c4c4" stroke-width="1"/>
<line x1="331.50" y1="364.27" x2="338.50" y2="364.27" stroke="#c4c4c4" stroke-width="1"/>
<line x1="331.50" y1="346.81" x2="338.50" y2="346.81" stroke="#c4c4c4" stroke-width="1"/>
<line x1="331.50" y1="329.35" x2="338.50" y2="329.35" stroke="#c4c4c4" stroke-width="1"/>
<line x1="331.50" y1="311.89" x2="338.50" y2="311.89" stroke="#c4c4c4" stroke-width="1"/>
<line x1="331.50" y1="294.42" x2="338.50" y2="294.42" stroke="#c4c4c4" stroke-width="1"/>
<line x1="331.50" y1="276.96" x2="338.50" y2="276.96" stroke="#c4c4c4" stroke-width="1"/>
<line x1="331.50" y1="259.50" x2="338.50" y2="259.50" stroke="#c4c4c4" stroke-width="1"/>
<line x1="335.00" y1="390.47" x2="338.50" y2="390.47" stroke="#c4c4c4" stroke-width="1"/>
<line x1="335.00" y1="373.01" x2="338.50" y2="373.01" stroke="#c4c4c4" stroke-width="1"/>
<line x1="335.00" y1="355.54" x2="338.50" y2="355.54" stroke="#c4c4c4" stroke-width="1"/>
<line x1="335.00" y1="338.08" x2="338.50" y2="338.08" stroke="#c4c4c4" stroke-width="1"/>
<line x1="335.00" y1="320.62" x2="338.50" y2="320.62" stroke="#c4c4c4" stroke-width="1"/>
<line x1="335.00" y1="303.16" x2="338.50" y2="303.16" stroke="#c4c4c4" stroke-width="1"/>
<line x1="335.00" y1="285.69" x2="338.50" y2="285.69" stroke="#c4c4c4" stroke-width="1"/>
<line x1="335.00" y1="268.23" x2="338.50" y2="268.23" stroke="#c4c4c4" stroke-width="1"/>
<line x1="338.50" y1="399.40" x2="514.40" y2="399.40" stroke="#c4c4c4" stroke-width="1"/>
<line x1="354.80" y1="399.40" x2="354.80" y2="403.40" stroke="#c4c4c4" stroke-width="1"/>
<text x="352.99" y="414.70" font-size="6.73" textLength="3.63" lengthAdjust="spacingAndGlyphs" font-weight="bold" fill="#111">0</text>
<line x1="370.76" y1="399.40" x2="370.76" y2="403.40" stroke="#c4c4c4" stroke-width="1"/>
<text x="368.94" y="414.70" font-size="6.73" textLength="3.63" lengthAdjust="spacingAndGlyphs" font-weight="bold" fill="#111">8</text>
<line x1="386.72" y1="399.40" x2="386.72" y2="403.40" stroke="#c4c4c4" stroke-width="1"/>
<text x="383.00" y="414.70" font-size="6.73" textLength="7.27" lengthAdjust="spacingAndGlyphs" font-weight="bold" fill="#111">16</text>
<line x1="402.68" y1="399.40" x2="402.68" y2="403.40" stroke="#c4c4c4" stroke-width="1"/>
<text x="398.95" y="414.70" font-size="6.73" textLength="7.27" lengthAdjust="spacingAndGlyphs" font-weight="bold" fill="#111">24</text>
<line x1="418.64" y1="399.40" x2="418.64" y2="403.40" stroke="#c4c4c4" stroke-width="1"/>
<text x="415.06" y="414.70" font-size="6.73" textLength="7.27" lengthAdjust="spacingAndGlyphs" font-weight="bold" fill="#111">32</text>
<line x1="434.60" y1="399.40" x2="434.60" y2="403.40" stroke="#c4c4c4" stroke-width="1"/>
<text x="431.05" y="414.70" font-size="6.73" textLength="7.27" lengthAdjust="spacingAndGlyphs" font-weight="bold" fill="#111">40</text>
<line x1="450.56" y1="399.40" x2="450.56" y2="403.40" stroke="#c4c4c4" stroke-width="1"/>
<text x="446.98" y="414.70" font-size="6.73" textLength="7.27" lengthAdjust="spacingAndGlyphs" font-weight="bold" fill="#111">48</text>
<line x1="466.52" y1="399.40" x2="466.52" y2="403.40" stroke="#c4c4c4" stroke-width="1"/>
<text x="462.90" y="414.70" font-size="6.73" textLength="7.27" lengthAdjust="spacingAndGlyphs" font-weight="bold" fill="#111">56</text>
<line x1="482.48" y1="399.40" x2="482.48" y2="403.40" stroke="#c4c4c4" stroke-width="1"/>
<text x="478.74" y="414.70" font-size="6.73" textLength="7.27" lengthAdjust="spacingAndGlyphs" font-weight="bold" fill="#111">64</text>
<line x1="498.44" y1="399.40" x2="498.44" y2="403.40" stroke="#c4c4c4" stroke-width="1"/>
<text x="494.80" y="414.70" font-size="6.73" textLength="7.27" lengthAdjust="spacingAndGlyphs" font-weight="bold" fill="#111">72</text>
<line x1="514.40" y1="399.40" x2="514.40" y2="403.40" stroke="#c4c4c4" stroke-width="1"/>
<text x="510.80" y="414.70" font-size="6.73" textLength="7.27" lengthAdjust="spacingAndGlyphs" font-weight="bold" fill="#111">80</text>
<text x="322.79" y="401.65" font-size="7.02" textLength="3.79" lengthAdjust="spacingAndGlyphs" font-weight="bold" fill="#111">0</text>
<text x="316.25" y="384.19" font-size="7.02" textLength="10.31" lengthAdjust="spacingAndGlyphs" font-weight="bold" fill="#111">100</text>
<text x="316.25" y="366.72" font-size="7.02" textLength="10.31" lengthAdjust="spacingAndGlyphs" font-weight="bold" fill="#111">200</text>
<text x="316.25" y="349.26" font-size="7.02" textLength="10.31" lengthAdjust="spacingAndGlyphs" font-weight="bold" fill="#111">300</text>
<text x="316.25" y="331.80" font-size="7.02" textLength="10.31" lengthAdjust="spacingAndGlyphs" font-weight="bold" fill="#111">400</text>
<text x="316.25" y="314.34" font-size="7.02" textLength="10.31" lengthAdjust="spacingAndGlyphs" font-weight="bold" fill="#111">500</text>
<text x="316.25" y="296.87" font-size="7.02" textLength="10.31" lengthAdjust="spacingAndGlyphs" font-weight="bold" fill="#111">600</text>
<text x="316.25" y="279.41" font-size="7.02" textLength="10.31" lengthAdjust="spacingAndGlyphs" font-weight="bold" fill="#111">700</text>
<text x="316.25" y="261.95" font-size="7.02" textLength="10.31" lengthAdjust="spacingAndGlyphs" font-weight="bold" fill="#111">800</text>
<text x="355.91" y="430.60" font-size="10.03" textLength="19.57" lengthAdjust="spacingAndGlyphs" fill="#111">TIme</text>
<text x="380.74" y="430.60" font-size="10.03" textLength="18.63" lengthAdjust="spacingAndGlyphs" fill="#111">Post</text>
<text x="404.55" y="430.60" font-size="10.03" textLength="32.25" lengthAdjust="spacingAndGlyphs" fill="#111">Infusion</text>
<text x="442.11" y="430.60" font-size="10.03" textLength="7.78" lengthAdjust="spacingAndGlyphs" fill="#111">of</text>
<text x="455.26" y="430.60" font-size="10.03" textLength="30.46" lengthAdjust="spacingAndGlyphs" fill="#111">DIC-SA</text>
<text x="491.31" y="430.60" font-size="10.03" textLength="19.69" lengthAdjust="spacingAndGlyphs" fill="#111">(hrs)</text>
<text x="358.82" y="266.20" font-size="5.96" textLength="19.32" lengthAdjust="spacingAndGlyphs" font-weight="bold" fill="#111" style="stroke-width:0.25px">DIC-SA</text>
<text x="381.86" y="266.20" font-size="5.81" textLength="13.89" lengthAdjust="spacingAndGlyphs" fill="#111" style="stroke-width:0.4px">alone</text>
<text x="358.82" y="273.60" font-size="5.96" textLength="19.32" lengthAdjust="spacingAndGlyphs" font-weight="bold" fill="#111" style="stroke-width:0.25px">DIC-SA</text>
<line x1="382.40" y1="271.90" x2="384.80" y2="271.90" stroke="#222" stroke-width="0.9"/>
<line x1="383.60" y1="270.70" x2="383.60" y2="273.10" stroke="#222" stroke-width="0.9"/>
<text x="387.76" y="273.60" font-size="5.96" textLength="7.10" lengthAdjust="spacingAndGlyphs" font-weight="bold" fill="#111" style="stroke-width:0.25px">AT</text>
<text x="399.17" y="273.60" font-size="5.96" textLength="11.65" lengthAdjust="spacingAndGlyphs" font-weight="bold" fill="#111" style="stroke-width:0.25px">1000</text>
<text x="413.42" y="273.60" font-size="5.96" textLength="13.96" lengthAdjust="spacingAndGlyphs" font-weight="bold" fill="#111" style="stroke-width:0.25px">IU/kg</text>
<text x="358.82" y="281.10" font-size="5.96" textLength="19.32" lengthAdjust="spacingAndGlyphs" font-weight="bold" fill="#111" style="stroke-width:0.25px">DIC-SA</text>
<line x1="382.40" y1="279.40" x2="384.80" y2="279.40" stroke="#222" stroke-width="0.9"/>
<line x1="383.60" y1="278.20" x2="383.60" y2="280.60" stroke="#222" stroke-width="0.9"/>
<text x="387.76" y="281.10" font-size="5.96" textLength="7.10" lengthAdjust="spacingAndGlyphs" font-weight="bold" fill="#111" style="stroke-width:0.25px">AT</text>
<text x="399.33" y="281.10" font-size="5.96" textLength="9.41" lengthAdjust="spacingAndGlyphs" font-weight="bold" fill="#111" style="stroke-width:0.25px">500</text>
<text x="411.02" y="281.10" font-size="5.96" textLength="13.75" lengthAdjust="spacingAndGlyphs" font-weight="bold" fill="#111" style="stroke-width:0.25px">IU/kg</text>
<line x1="347.70" y1="264.40" x2="358.20" y2="264.40" stroke="#bbb" stroke-width="0.8"/>
<line x1="347.70" y1="271.80" x2="358.20" y2="271.80" stroke="#bbb" stroke-width="0.8"/>
<line x1="347.70" y1="279.30" x2="358.20" y2="279.30" stroke="#bbb" stroke-width="0.8"/>
<rect x="351.10" y="262.80" width="3.2" height="3.2" fill="#000"/>
<path d="M352.70,273.60L352.70,270.00M351.14,272.70L354.26,270.90M351.14,270.90L354.26,272.70" stroke="#777" stroke-width="0.9" fill="none"/>
<circle cx="352.70" cy="279.30" r="1.8" fill="#fff" stroke="#999" stroke-width="0.8"/>
<line x1="451.00" y1="300.70" x2="451.00" y2="329.70" stroke="#d0d0d0" stroke-width="0.8"/>
<line x1="449.30" y1="300.70" x2="452.70" y2="300.70" stroke="#d0d0d0" stroke-width="0.8"/>
<line x1="449.30" y1="329.70" x2="452.70" y2="329.70" stroke="#d0d0d0" stroke-width="0.8"/>
<line x1="498.90" y1="328.30" x2="498.90" y2="347.60" stroke="#d0d0d0" stroke-width="0.8"/>
<line x1="497.20" y1="328.30" x2="500.60" y2="328.30" stroke="#d0d0d0" stroke-width="0.8"/>
<line x1="497.20" y1="347.60" x2="500.60" y2="347.60" stroke="#d0d0d0" stroke-width="0.8"/>
<line x1="451.00" y1="335.20" x2="451.00" y2="362.80" stroke="#d0d0d0" stroke-width="0.8"/>
<line x1="449.30" y1="335.20" x2="452.70" y2="335.20" stroke="#d0d0d0" stroke-width="0.8"/>
<line x1="449.30" y1="362.80" x2="452.70" y2="362.80" stroke="#d0d0d0" stroke-width="0.8"/>
<line x1="498.90" y1="364.00" x2="498.90" y2="375.00" stroke="#d0d0d0" stroke-width="0.8"/>
<line x1="497.20" y1="364.00" x2="500.60" y2="364.00" stroke="#d0d0d0" stroke-width="0.8"/>
<line x1="497.20" y1="375.00" x2="500.60" y2="375.00" stroke="#d0d0d0" stroke-width="0.8"/>
<polyline points="403.00,380.30 451.00,380.40 498.90,379.50" fill="none" stroke="#c4c4c4" stroke-width="1"/>
<polyline points="354.80,380.60 403.00,380.10 451.00,314.50 498.90,338.00" fill="none" stroke="#999" stroke-width="1"/>
<polyline points="354.80,380.80 403.00,383.30 451.00,349.60 498.90,369.70" fill="none" stroke="#999" stroke-width="1"/>
<rect x="449.10" y="378.50" width="3.8" height="3.8" fill="#000"/>
<rect x="497.00" y="377.60" width="3.8" height="3.8" fill="#000"/>
<circle cx="403.00" cy="383.30" r="2.0" fill="#fff" stroke="#888" stroke-width="0.8"/>
<circle cx="451.00" cy="349.60" r="2.0" fill="#fff" stroke="#888" stroke-width="0.8"/>
<circle cx="498.90" cy="369.70" r="2.0" fill="#fff" stroke="#888" stroke-width="0.8"/>
<path d="M403.00,382.30L403.00,377.90M401.09,381.20L404.91,379.00M401.09,379.00L404.91,381.20" stroke="#555" stroke-width="0.9" fill="none"/>
<path d="M451.00,316.70L451.00,312.30M449.09,315.60L452.91,313.40M449.09,313.40L452.91,315.60" stroke="#555" stroke-width="0.9" fill="none"/>
<path d="M498.90,340.20L498.90,335.80M496.99,339.10L500.81,336.90M496.99,336.90L500.81,339.10" stroke="#555" stroke-width="0.9" fill="none"/>
<rect x="352.80" y="378.80" width="4.0" height="4.0" fill="#fff" stroke="#888" stroke-width="0.8"/>
<text x="449.00" y="287.95" font-size="9.39" textLength="4.20" lengthAdjust="spacingAndGlyphs" font-weight="bold" fill="#111">§</text>
<text x="498.11" y="311.22" font-size="8.71" textLength="4.88" lengthAdjust="spacingAndGlyphs" font-weight="bold" fill="#111">†</text>
</svg>
</body></html>
